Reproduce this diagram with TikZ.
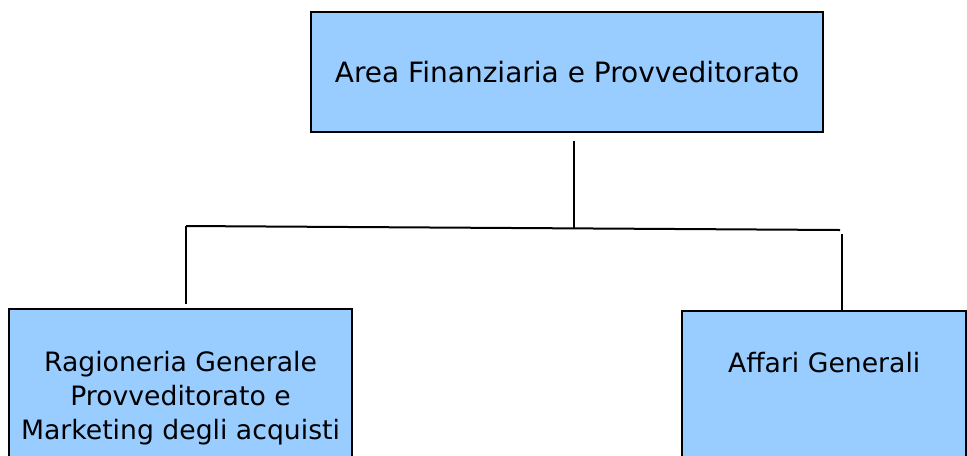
\documentclass[tikz,border=0pt]{standalone}
\usepackage{fontspec}
\setmainfont{DejaVu Sans}
\usetikzlibrary{positioning}
\definecolor{boxblue}{HTML}{99CCFF}
\tikzset{orgbox/.style = {draw, rectangle, line width = 1.8pt, fill = boxblue, align = center, inner sep = 0, font = \fontsize{20}{25.5}\selectfont}}
\tikzset{orgtext/.style = {inner sep = 0, font = \fontsize{20}{25.5}\selectfont}}
\tikzset{link/.style = {line width = 1.5pt}}

\begin{document}
\begin{tikzpicture}[x = 0.75pt, y = -0.75pt]
            \useasboundingbox (0,0) rectangle (967,455);
            \node [orgbox, minimum width = 384pt, minimum height = 90pt, font = \fontsize{21}{25.5}\selectfont] (area) at (567,72) {Area Finanziaria e Provveditorato};
            \node [orgbox, minimum width = 257.25pt, minimum height = 133.5pt] (ragioneria) at (180.5,398) {Ragioneria Generale\\Provveditorato e\\Marketing degli acquisti};
            \node [orgbox, anchor = north west, minimum width = 213pt, minimum height = 150pt] (affari) at (681,310) {};
            \node [orgtext] (affarilabel) at ([yshift=-39.75pt]affari.north) {Affari Generali};
            \coordinate (hub) at (574,228);
            \coordinate (branchleft) at (186,226);
            \coordinate (branchright) at (840,230);
            \coordinate (dropright) at (842,230);
            \draw [link, shorten <= 6pt] (hub |- area.south) -- (hub);
            \draw [link] (branchleft) -- (branchright);
            \draw [link, shorten >= 3pt] (branchleft) -- (branchleft |- ragioneria.north);
            \draw [link, shorten <= 3pt] (dropright) -- (dropright |- affari.north);
        \end{tikzpicture}
\end{document}
